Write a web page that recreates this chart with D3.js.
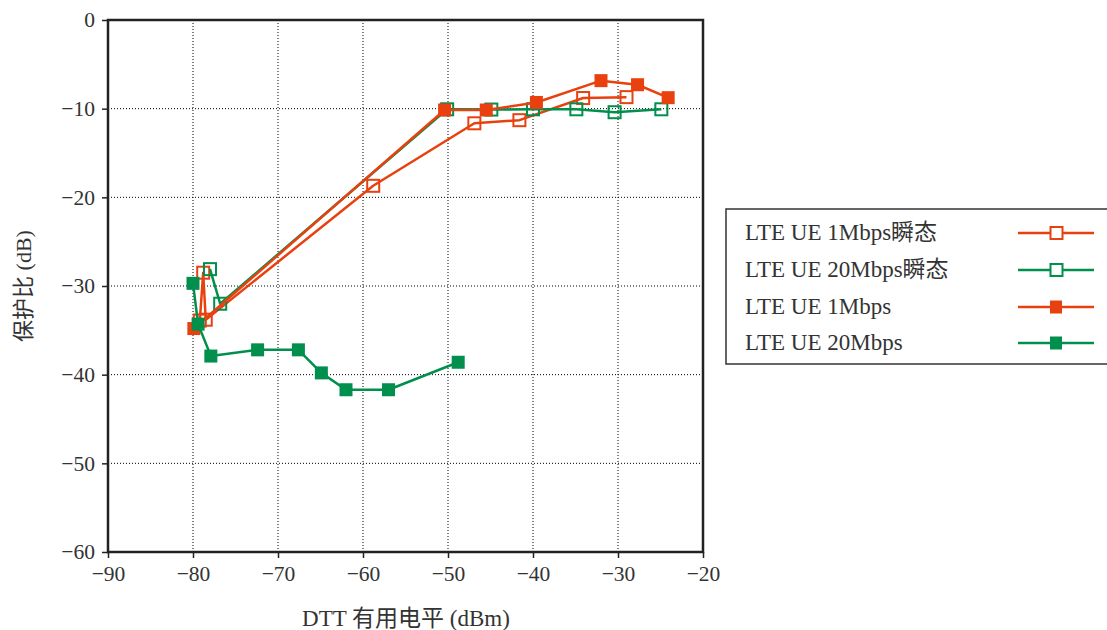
<!DOCTYPE html>
<html><head><meta charset="utf-8">
<script src="https://cdn.jsdelivr.net/npm/d3@7"></script>
<style>
html,body{margin:0;padding:0;background:#fff;}
svg{display:block;}
text{font-family:"Liberation Serif","Noto Sans CJK SC",serif;fill:#333;}
</style></head>
<body>
<svg id="chart" width="1107" height="630"></svg>
<script>
const seriesNames = ["LTE UE 1Mbps瞬态","LTE UE 20Mbps瞬态","LTE UE 1Mbps","LTE UE 20Mbps"];
const seriesColors = ["#e8410f","#008f4c","#e8410f","#008f4c"];
const seriesFilled = [false,false,true,true];

const x1MbpsTransient = [-79.2,-78.8,-78.5,-58.8,-46.9,-41.6,-34.1,-29.0];
const y1MbpsTransient = [-33.9,-28.5,-33.8,-18.7,-11.65,-11.3,-8.8,-8.7];

const x20MbpsTransient = [-78.0,-76.8,-50.1,-44.9,-40.0,-34.9,-30.4,-24.9];
const y20MbpsTransient = [-28.1,-32.0,-10.07,-10.1,-10.07,-10.07,-10.4,-10.07];

const x1Mbps = [-79.9,-50.4,-45.5,-39.6,-32.0,-27.7,-24.1];
const y1Mbps = [-34.8,-10.15,-10.15,-9.3,-6.84,-7.3,-8.76];

const x20Mbps = [-80.0,-79.4,-77.9,-72.4,-67.6,-64.9,-62.0,-57.0,-48.8];
const y20Mbps = [-29.7,-34.3,-37.9,-37.2,-37.2,-39.8,-41.7,-41.7,-38.6];

const xTicks = [-90,-80,-70,-60,-50,-40,-30,-20];
const yTicks = [0,-10,-20,-30,-40,-50,-60];
const xLabel = "DTT 有用电平 (dBm)";
const yLabel = "保护比 (dB)";

const seriesX = [x1MbpsTransient,x20MbpsTransient,x1Mbps,x20Mbps];
const seriesY = [y1MbpsTransient,y20MbpsTransient,y1Mbps,y20Mbps];

const svg = d3.select("#chart");
const L=108,R=703,T=20,B=552;
const x = d3.scaleLinear().domain([-90,-20]).range([L,R]);
const y = d3.scaleLinear().domain([-60,0]).range([B,T]);

// grid
const grid = svg.append("g");
grid.selectAll(".gx").data(xTicks.slice(1,-1)).join("line")
  .attr("x1",d=>x(d)).attr("x2",d=>x(d)).attr("y1",T).attr("y2",B)
  .attr("stroke","#000").attr("stroke-width",1).attr("stroke-dasharray","1,2");
grid.selectAll(".gy").data(yTicks.slice(1,-1)).join("line")
  .attr("y1",d=>y(d)).attr("y2",d=>y(d)).attr("x1",L).attr("x2",R)
  .attr("stroke","#000").attr("stroke-width",1).attr("stroke-dasharray","1,2");

// axes
const fmt = d3.format("");
const xAxis = svg.append("g").attr("transform",`translate(0,${B})`)
  .call(d3.axisBottom(x).tickValues(xTicks).tickSize(6).tickPadding(8).tickFormat(fmt));
const yAxis = svg.append("g").attr("transform",`translate(${L},0)`)
  .call(d3.axisLeft(y).tickValues(yTicks).tickSize(6).tickPadding(7).tickFormat(fmt));
[xAxis,yAxis].forEach(a=>{
  a.select(".domain").remove();
  a.selectAll("line").attr("stroke","#222").attr("stroke-width",1.5);
  a.selectAll("text").style("font-size","21.5px").attr("fill","#333")
   .style("font-family",'"Liberation Serif",serif');
});
// frame
svg.append("rect").attr("x",L).attr("y",T).attr("width",R-L).attr("height",B-T)
  .attr("fill","none").attr("stroke","#222").attr("stroke-width",2.5);

// series
const line = d3.line().x(d=>x(d[0])).y(d=>y(d[1]));
const plot = svg.append("g");
seriesNames.forEach((name,i)=>{
  const pts = seriesX[i].map((v,j)=>[v,seriesY[i][j]]);
  const g = plot.append("g");
  g.append("path").datum(pts).attr("d",line).attr("fill","none")
    .attr("stroke",seriesColors[i]).attr("stroke-width",2.5).attr("stroke-linejoin","round");
  if(seriesFilled[i]){
    g.selectAll("rect").data(pts).join("rect")
      .attr("x",d=>x(d[0])-6.5).attr("y",d=>y(d[1])-6.5).attr("width",13).attr("height",13)
      .attr("fill",seriesColors[i]);
  } else {
    g.selectAll("rect").data(pts).join("rect")
      .attr("x",d=>x(d[0])-6).attr("y",d=>y(d[1])-6).attr("width",12).attr("height",12)
      .attr("fill","none").attr("stroke",seriesColors[i]).attr("stroke-width",2);
  }
});

// axis labels
svg.append("text").attr("x",406).attr("y",626).attr("text-anchor","middle")
  .style("font-size","23px").text(xLabel);
svg.append("text").attr("transform","translate(31,286) rotate(-90)").attr("text-anchor","middle")
  .style("font-size","22px").text(yLabel);

// legend
const lg = svg.append("g");
lg.append("rect").attr("x",726).attr("y",209).attr("width",420).attr("height",155)
  .attr("fill","#fff").attr("stroke","#333").attr("stroke-width",1.5);
const rowY = [233,270,307,343];
seriesNames.forEach((name,i)=>{
  const yy = rowY[i];
  lg.append("text").attr("x",745).attr("y",yy+7).style("font-size","23px").text(name);
  lg.append("line").attr("x1",1018).attr("x2",1094).attr("y1",yy).attr("y2",yy)
    .attr("stroke",seriesColors[i]).attr("stroke-width",2.5);
  if(seriesFilled[i]){
    lg.append("rect").attr("x",1050).attr("y",yy-6.5).attr("width",12).attr("height",13).attr("fill",seriesColors[i]);
  } else {
    lg.append("rect").attr("x",1050.5).attr("y",yy-6).attr("width",12).attr("height",12)
      .attr("fill","#fff").attr("stroke",seriesColors[i]).attr("stroke-width",2);
  }
});
</script>
</body></html>
